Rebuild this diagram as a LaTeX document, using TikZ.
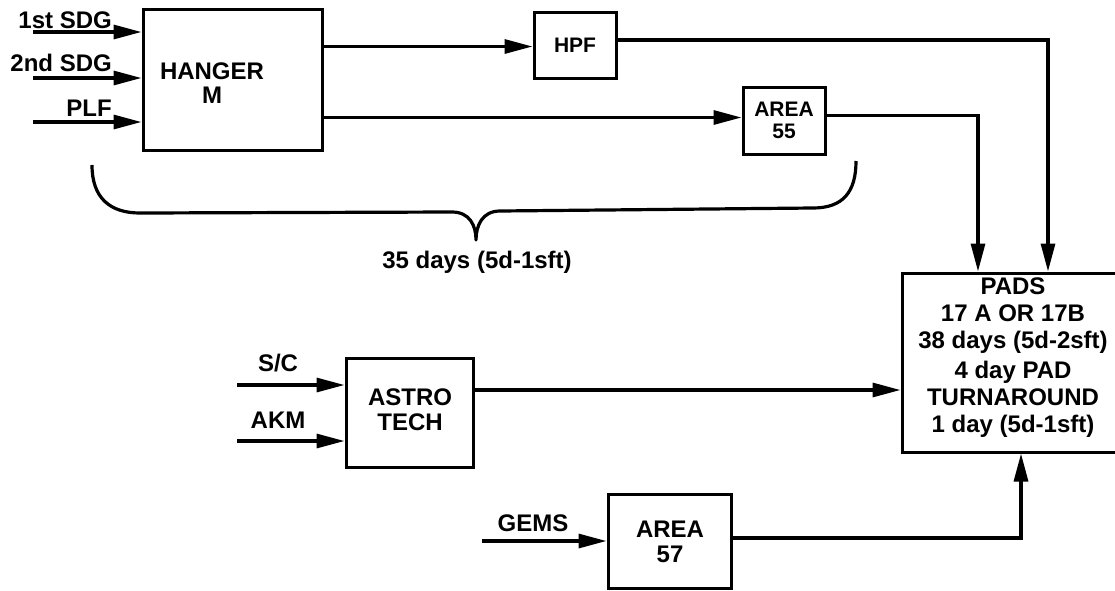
\documentclass[tikz,border=0pt]{standalone}
\usepackage{fontspec}
\setmainfont{Liberation Sans}
\usetikzlibrary{arrows.meta,calc}
\begin{document}
\begin{tikzpicture}[x=1pt,y=-1pt,
  every node/.style={font=\fontsize{24}{27}\selectfont\bfseries},
  boxnode/.style={draw,line width=3pt,align=center,inner sep=0pt},
  flow/.style={line width=3.2pt,-{Triangle[length=28pt,width=14pt]}},
  plain/.style={line width=3.2pt},
  lbl/.style={inner sep=0pt,anchor=east}]
\useasboundingbox (0,0) rectangle (1115,590);
\clip (0,0) rectangle (1115,590);
% boxes
\node[boxnode,minimum width=179pt,minimum height=141pt] (hanger) at (232.5,79.5) {};
\node[inner sep=0pt,align=center] (hangertext) at (212,83) {HANGER\\[-3pt]M};
\node[boxnode,minimum width=82pt,minimum height=66pt,font=\fontsize{21}{24}\selectfont\bfseries] (hpf) at (575,45) {HPF};
\node[boxnode,minimum width=82pt,minimum height=67pt,font=\fontsize{21}{22}\selectfont\bfseries] (a55) at (784,120.5) {AREA\\55};
\node[boxnode,minimum width=218pt,minimum height=179pt] (pads) at (1011,362.5) {};
\node[inner sep=0pt,align=center,font=\fontsize{24}{27}\selectfont\bfseries] (padstext) at (1013,358) {PADS\\17 A OR 17B\\38 days (5d-2sft)\\[3pt]4 day PAD\\TURNAROUND\\1 day (5d-1sft)};
\node[boxnode,minimum width=127pt,minimum height=109pt] (astro) at (409.5,412.5) {};
\node[inner sep=0pt,align=center,font=\fontsize{24}{25}\selectfont\bfseries] (astrotext) at (410,410) {ASTRO\\TECH};
\node[boxnode,minimum width=123pt,minimum height=94pt] (a57) at (669.5,541) {};
\node[inner sep=0pt,align=center,font=\fontsize{24}{25}\selectfont\bfseries] (a57text) at (670,542) {AREA\\57};
% input coordinates
\coordinate (i1) at (33,32);
\coordinate (i2) at (33,78);
\coordinate (i3) at (33,122);
\coordinate (isc) at (237,385);
\coordinate (iakm) at (237,441);
\coordinate (igems) at (482,541);
% labels
\node[lbl] (l1) at (112,20) {1st SDG};
\node[lbl] (l2) at (112,63) {2nd SDG};
\node[lbl] (l3) at (112,108) {PLF};
\node[inner sep=0pt] (lsc) at (278,363) {S/C};
\node[inner sep=0pt] (lakm) at (278,420) {AKM};
\node[inner sep=0pt] (lgems) at (533,523) {GEMS};
% inputs
\draw[flow] (i1) -- (i1 -| hanger.west);
\draw[flow] (i2) -- (i2 -| hanger.west);
\draw[flow] (i3) -- (i3 -| hanger.west);
\draw[flow] (isc) -- (isc -| astro.west);
\draw[flow] (iakm) -- (iakm -| astro.west);
\draw[flow] (igems) -- (igems -| a57.west);
% hanger outputs
\coordinate (h1) at ($(hanger.east)+(0,-33)$);
\coordinate (h2) at ($(hanger.east)+(0,38)$);
\draw[flow] (h1) -- (h1 -| hpf.west);
\draw[flow] (h2) -- (h2 -| a55.west);
% to pads
\coordinate (hpfo) at ($(hpf.east)+(0,-5)$);
\coordinate (hpfc) at (1048,0);
\draw[flow] (hpfo) -| (hpfc |- pads.north);
\coordinate (a55o) at ($(a55.east)+(0,-5)$);
\coordinate (a55c) at (978,0);
\draw[flow] (a55o) -| (a55c |- pads.north);
\coordinate (astroo) at (astro.east |- 0,390);
\draw[flow] (astroo) -- (astroo -| pads.west);
\coordinate (a57o) at ($(a57.east)+(0,-3)$);
\coordinate (a57c) at (1021,0);
\draw[flow] (a57o) -| (a57c |- pads.south);
% brace
\draw[plain,line join=round] (92,165) .. controls (92,198) and (110,213) .. (140,213) -- (452,212) .. controls (470,212) and (476,226) .. (476,240) .. controls (476,226) and (482,211) .. (500,211) -- (813,208) .. controls (843,208) and (856,192) .. (856,161);
\node[inner sep=0pt] (brlbl) at (477,262) {35 days (5d-1sft)};
\end{tikzpicture}
\end{document}
